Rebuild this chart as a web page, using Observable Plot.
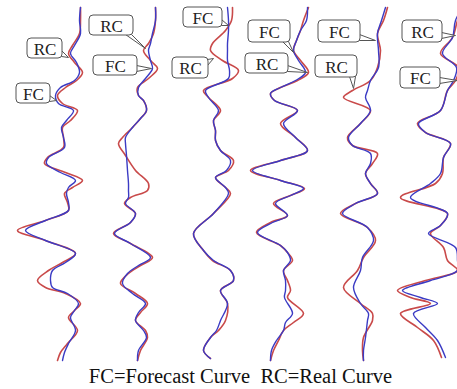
<!DOCTYPE html>
<html>
<head>
<meta charset="utf-8">
<script src="https://cdn.jsdelivr.net/npm/d3@7"></script>
<script src="https://cdn.jsdelivr.net/npm/@observablehq/plot@0.6"></script>
<style>
  html, body { margin: 0; padding: 0; background: #fff; }
  #wrap { width: 457px; height: 389px; overflow: hidden; }
  #caption { font-family: "Liberation Serif", "Times New Roman", serif; font-size: 20.5px; color: #111;
    text-align: center; padding-left: 24px; height: 23px; line-height: 21px; white-space: pre; }
</style>
</head>
<body>
<div id="wrap"></div>
<script>
// Six traces: depth samples, real curve (red) and forecast curve (blue) positions
const depthT1 = [7,20,33,45,53,62,72,80,87,95,103,110,120,127,137,147,157,163,172,180,187,193,202,210,220,230,240,253,262,270,280,287,293,303,310,317,330,343,352,360];
const realT1 = [80,80,79,72,68,74,82,76,65,57,62,77,70,62,63,63,47,44,65,82,72,64,67,68,45,17,45,75,62,48,37,45,65,80,74,68,77,67,60,57];
const fcT1 = [80,79,80,74,70,76,79,74,60,55,58,73,66,61,63,64,48,46,60,75,68,66,68,68,45,25,45,75,65,52,50,52,67,78,74,70,75,68,64,62];

const depthT2 = [7,20,33,43,50,60,68,78,87,95,100,110,118,127,137,143,155,170,183,190,197,203,213,222,233,243,257,265,273,283,293,303,312,320,330,337,350,360];
const realT2 = [155,155,153,148,143,150,157,148,137,138,143,146,140,132,122,118,125,135,148,147,130,124,135,130,113,130,152,140,128,120,135,147,140,135,145,147,140,137];
const fcT2 = [155,155,152,150,148,150,152,145,138,138,143,146,140,132,125,125,126,127,128,128,128,125,135,130,114,130,150,138,127,122,132,145,138,135,143,146,138,137];

const depthT3 = [7,20,30,43,50,60,70,78,90,97,110,120,130,140,150,160,170,177,187,193,213,233,250,260,270,280,290,303,320,330,337,350,358];
const realT3 = [232,231,225,212,210,222,238,232,203,208,220,213,215,215,220,233,228,215,225,230,213,193,203,212,230,233,220,227,225,218,210,203,210];
const fcT3 = [227,228,228,227,227,227,229,228,205,208,218,213,215,215,220,230,226,215,225,228,213,193,203,213,230,233,220,227,220,216,210,203,210];

const depthT4 = [7,20,30,40,50,60,72,80,87,93,100,110,123,137,150,160,170,180,188,195,203,215,222,232,245,252,260,270,280,290,297,313,322,330,340,350,360];
const realT4 = [308,303,300,296,293,300,308,297,280,270,274,297,280,295,307,280,250,280,304,290,273,287,270,256,280,287,292,283,287,290,287,303,293,283,278,273,270];
const fcT4 = [307,306,300,296,293,298,305,295,280,270,274,297,283,295,307,280,252,280,303,290,275,287,272,257,280,287,290,283,285,285,284,292,285,283,276,271,270];

const depthT5 = [7,20,33,50,67,80,90,97,110,123,137,145,153,163,173,183,193,203,213,227,240,257,270,287,303,313,320,337,350,360];
const realT5 = [387,383,377,380,377,370,352,343,370,360,347,352,377,372,365,370,377,355,340,367,375,363,357,343,360,372,372,363,362,363];
const fcT5 = [385,381,377,378,378,370,367,365,370,360,348,352,370,370,365,370,377,355,342,367,373,362,360,353,360,368,367,365,363,363];

const depthT6 = [7,20,37,53,67,80,90,110,123,132,143,157,173,183,197,213,225,233,247,260,270,280,290,297,303,313,327,340,357];
const realT6 = [462,457,452,440,458,455,447,440,417,425,450,443,442,435,400,447,440,430,443,447,457,425,397,410,430,400,417,433,441];
const fcT6 = [462,455,452,442,456,453,447,440,418,425,450,443,440,430,410,447,440,428,455,457,457,430,402,420,437,413,425,437,445];

// Callout labels: box extent and the point on the curve they refer to
const calloutLabels = ["RC","FC","RC","FC","FC","RC","FC","RC","FC","RC","RC","FC"];
const calloutBoxX0 = [27,16,89,93,183,172,248,245,318,315,402,400];
const calloutBoxX1 = [62,50,133,137,222,208,290,288,360,357,442,440];
const calloutBoxY0 = [38,83,15,55,7,57,20,53,20,55,20,67];
const calloutBoxY1 = [58,103,35,75,27,78,42,73,42,77,42,88];
const calloutTipX = [68,56,145,151,228,213,293,307,375,353,455,457];
const calloutTipY = [57,100,48,68,25,58,52,72,40,88,35,80];

const caption = "FC=Forecast Curve  RC=Real Curve";

const traces = [
  [depthT1, realT1, fcT1], [depthT2, realT2, fcT2], [depthT3, realT3, fcT3],
  [depthT4, realT4, fcT4], [depthT5, realT5, fcT5], [depthT6, realT6, fcT6]
];
const rows = [];
traces.forEach(([d, r, f], i) => {
  d.forEach((depth, j) => {
    rows.push({trace: i, series: "real", depth, pos: r[j]});
  });
  d.forEach((depth, j) => {
    rows.push({trace: i, series: "forecast", depth, pos: f[j]});
  });
});
const realRows = rows.filter(d => d.series === "real");
const fcRows = rows.filter(d => d.series === "forecast");

const boxes = calloutLabels.map((label, i) => ({
  id: i, label,
  x0: calloutBoxX0[i], x1: calloutBoxX1[i], y0: calloutBoxY0[i], y1: calloutBoxY1[i],
  tx: calloutTipX[i], ty: calloutTipY[i]
}));
const tails = [];
boxes.forEach(b => {
  if (b.ty > b.y1 + 2) {
    const cx = Math.max(b.x0 + 5, Math.min(b.x1 - 5, b.tx));
    tails.push({id: b.id, x: cx - 3, y: b.y1 - 1}, {id: b.id, x: b.tx, y: b.ty}, {id: b.id, x: cx + 3, y: b.y1 - 1});
  } else {
    const cy = Math.max(b.y0 + 5, Math.min(b.y1 - 5, b.ty));
    tails.push({id: b.id, x: b.x1 - 1, y: cy - 3}, {id: b.id, x: b.tx, y: b.ty}, {id: b.id, x: b.x1 - 1, y: cy + 3});
  }
});

const chart = Plot.plot({
  width: 457,
  height: 366,
  margin: 0,
  x: {domain: [0, 457], range: [0, 457], axis: null},
  y: {domain: [0, 366], range: [0, 366], axis: null},
  style: {background: "white", overflow: "hidden"},
  marks: [
    Plot.line(realRows, {x: "pos", y: "depth", z: "trace", stroke: "#c94a4a", strokeWidth: 1.6, curve: "catmull-rom"}),
    Plot.line(fcRows, {x: "pos", y: "depth", z: "trace", stroke: "#3b3bc4", strokeWidth: 1.4, curve: "catmull-rom"}),
    Plot.line(tails, {x: "x", y: "y", z: "id", fill: "white", stroke: "#555", strokeWidth: 1}),
    Plot.rect(boxes, {x1: "x0", x2: "x1", y1: "y0", y2: "y1", fill: "white", stroke: "#555", strokeWidth: 1, rx: 4}),
    Plot.text(boxes, {x: d => (d.x0 + d.x1) / 2, y: d => (d.y0 + d.y1) / 2 + 1, text: "label",
      fontFamily: "Liberation Serif", fontSize: 17, fill: "#222"})
  ]
});
document.getElementById("wrap").appendChild(chart);
const cap = document.createElement("div");
cap.id = "caption";
cap.textContent = caption;
document.getElementById("wrap").appendChild(cap);
</script>
</body>
</html>
